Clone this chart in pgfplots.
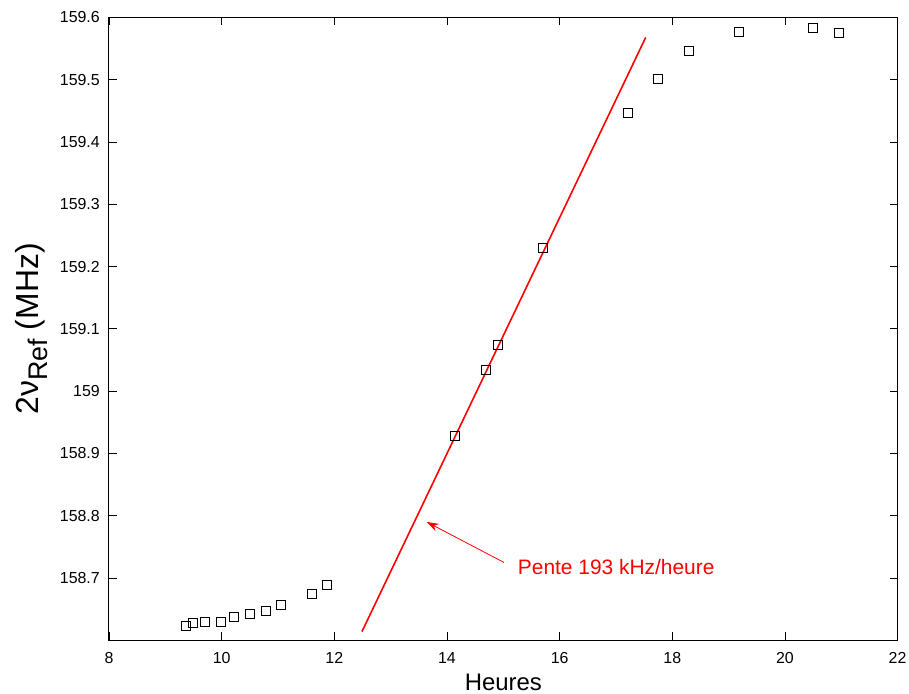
\documentclass[border=0pt]{standalone}
\usepackage{fontspec}
\setmainfont{Liberation Sans}
\usepackage{pgfplots}
\pgfplotsset{compat=1.18}
\usetikzlibrary{arrows.meta}
\begin{document}
\begin{tikzpicture}
\begin{axis}[
  at={(0,0)}, anchor=south west,
  scale only axis, width=788.6bp, height=622.8bp,
  xmin=8, xmax=22, ymin=158.6, ymax=159.6,
  xtick={8,10,12,14,16,18,20,22},
  ytick={158.7,158.8,158.9,159,159.1,159.2,159.3,159.4,159.5,159.6},
  axis line style={line width=1bp},
  tick style={line width=0.8bp, black},
  major tick length=8bp,
  tick align=inside,
  /pgf/number format/assume math mode=true,
  yticklabel style={/pgf/number format/fixed, /pgf/number format/precision=1, anchor=east, xshift=-9bp},
  tick label style={font=\fontsize{16}{19}\selectfont, inner sep=0pt},
  xticklabel style={anchor=base, yshift=-23bp},
  xlabel={Heures},
  xlabel style={font=\fontsize{24}{28}\selectfont, at={(axis description cs:0.5,-0.0798)}, anchor=base, inner sep=0pt},
  ylabel={2ν\raisebox{-0.3em}{\fontsize{27}{30}\selectfont Ref} (MHz)},
  ylabel style={font=\fontsize{32}{36}\selectfont, at={(axis description cs:-0.0897,0.5)}, anchor=base, inner sep=0pt},
]
\addplot[only marks, mark=square, mark size=4.5bp, mark options={line width=1bp, black}] coordinates {
(9.362,158.623) (9.497,158.627) (9.710,158.630) (9.994,158.630) (10.219,158.637)
(10.508,158.642) (10.782,158.647) (11.048,158.657) (11.598,158.675) (11.865,158.688)
(14.137,158.928) (14.687,159.034) (14.900,159.074) (15.705,159.230)
(17.208,159.447) (17.741,159.502) (18.291,159.547) (19.190,159.576) (20.493,159.583) (20.954,159.575)
};
\addplot[red, line width=1.6bp] coordinates {(12.491,158.614) (17.528,159.568)};
\draw[red, line width=0.8bp, -{Stealth[length=12bp,width=8bp]}] (axis cs:15.012,158.725) -- (axis cs:13.640,158.790);
\node[red, anchor=base west, inner sep=0pt, font=\fontsize{21}{25}\selectfont] at (axis cs:15.256,158.706) {Pente 193 kHz/heure};
\end{axis}
\path (-109bp,-53.7bp) rectangle (800bp,640.3bp);
\end{tikzpicture}
\end{document}
